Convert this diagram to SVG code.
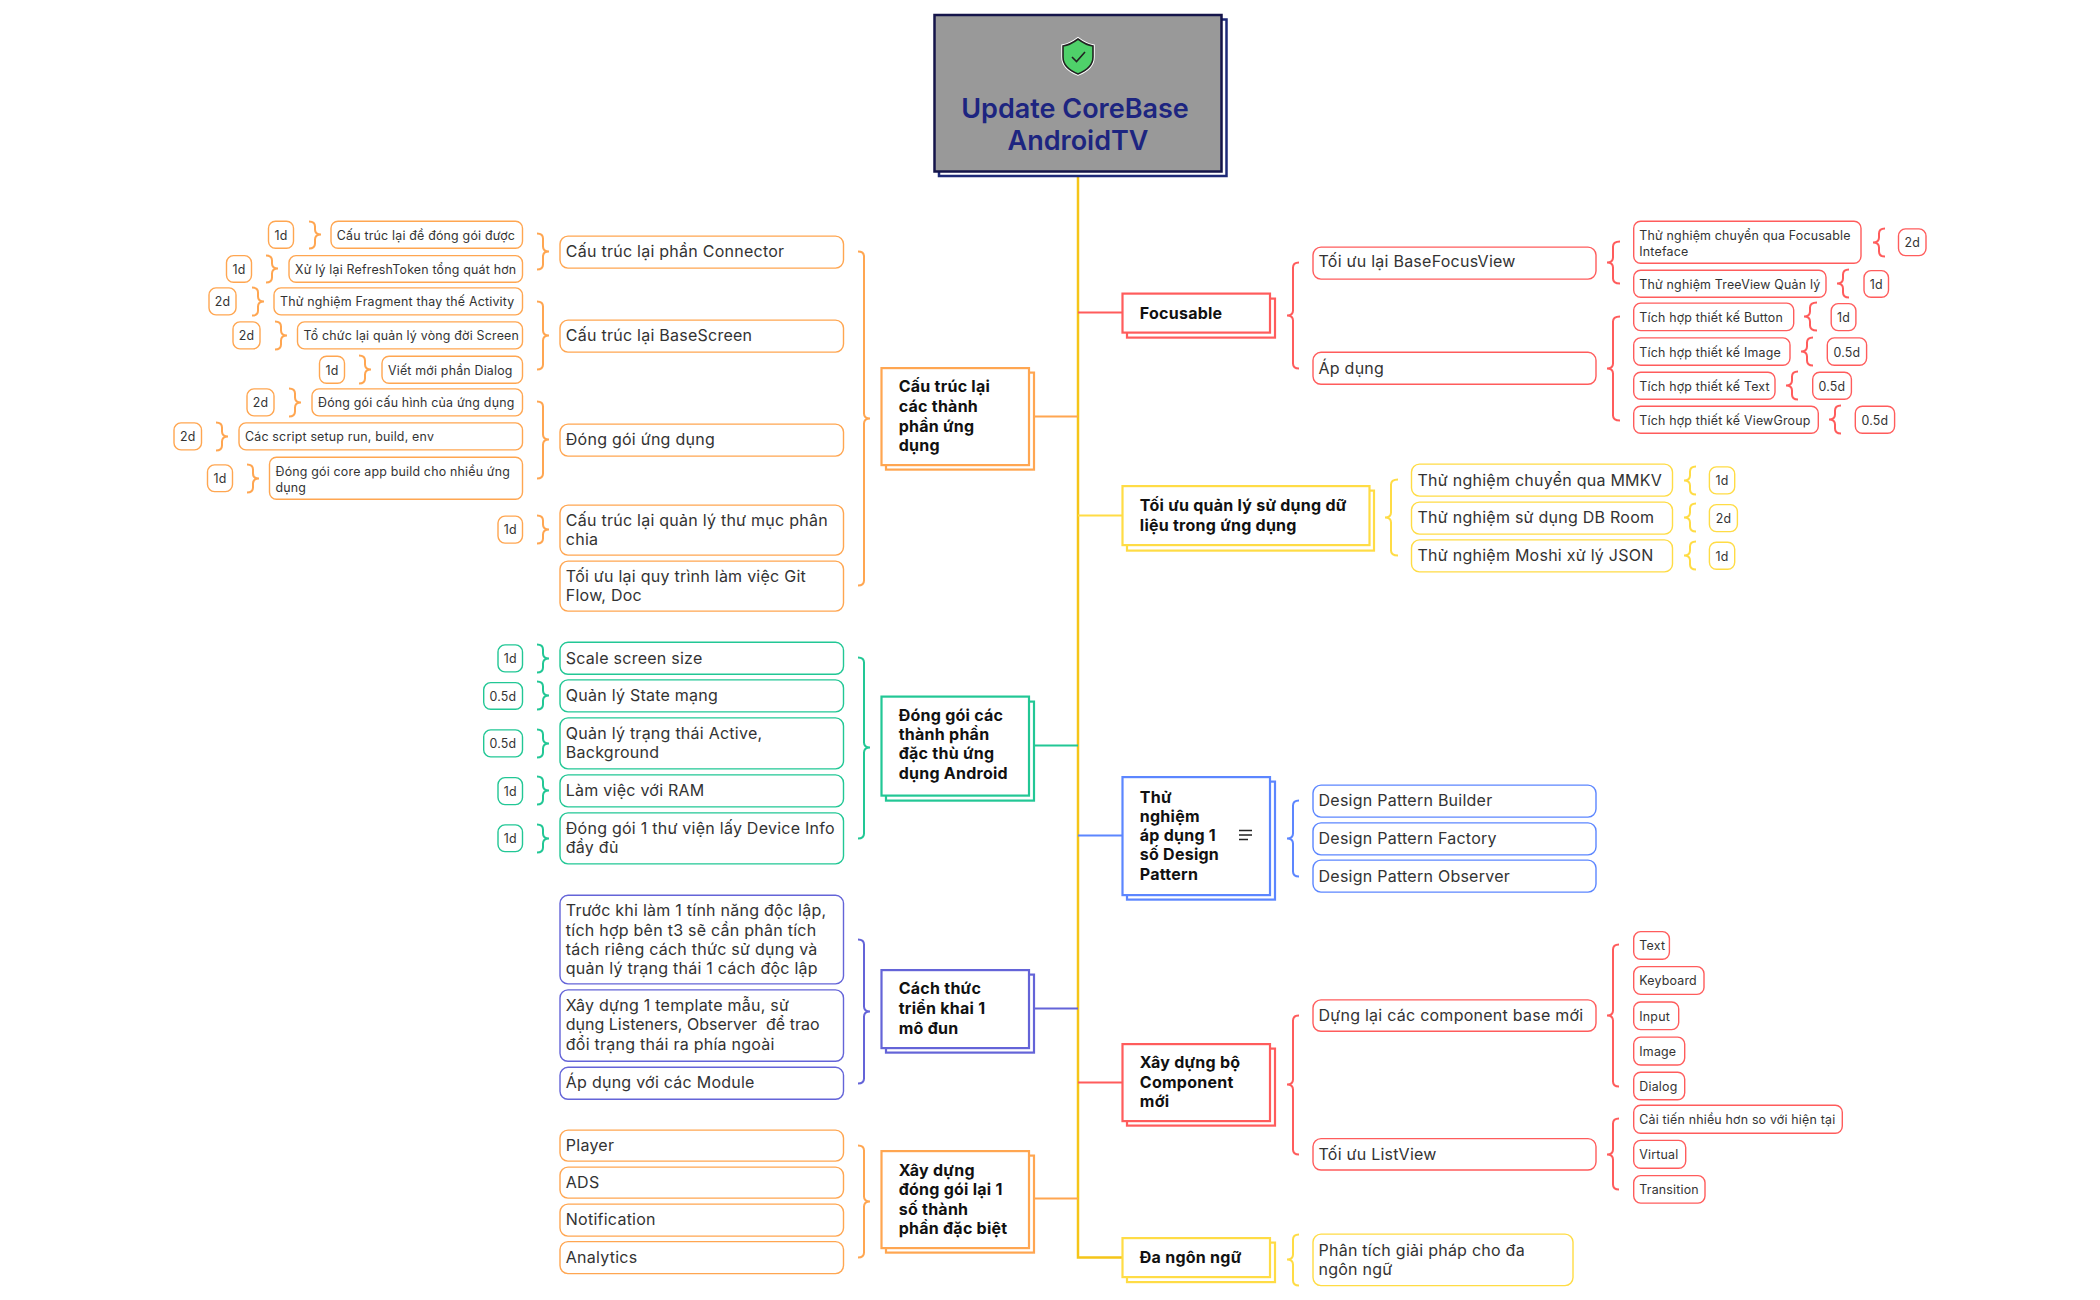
<svg xmlns="http://www.w3.org/2000/svg" width="2100" height="1300" viewBox="0 0 2100 1300">
<style>
text{font-family:"Inter","Noto Sans","Liberation Sans",sans-serif;fill:#333}
g[id]:not(#root){transform:translateY(.6px)}
g[id] g[id]{transform:none}
rect{fill:#fff;stroke-width:1.4}
.l1 rect{stroke-width:2.2}
.l1 text{font-size:16px;font-weight:700;fill:#111;letter-spacing:.25px}
.l2 rect{rx:8px}
.l2 text{font-size:16px;letter-spacing:.25px}
.l3 rect{rx:7px}
.l3 text{font-size:12.400px;letter-spacing:.2px}
.tag text{text-anchor:middle}
.o rect{stroke:#ffa651}.g rect{stroke:#22c795}.p rect{stroke:#6464d8}.b rect{stroke:#5c86ff}.r rect{stroke:#ff5c5c}.y rect{stroke:#ffdc45}
#connectors path{fill:none;stroke-width:2}
#connectors .o{stroke:#ffa651}#connectors .g{stroke:#22c795}#connectors .p{stroke:#6464d8}#connectors .b{stroke:#5c86ff}#connectors .r{stroke:#ff5c5c}#connectors .y{stroke:#ffdc45}
#connectors .trunk{stroke:#f5c518;stroke-width:2.500}
</style>
<g id="connectors">
<path class="trunk" d="M1078 176V1257H1122"/>
<path class="o" d="M1034 416H1078"/><path class="g" d="M1034 745H1078"/><path class="p" d="M1034 1008H1078"/><path class="o" d="M1034 1198H1078"/>
<path class="r" d="M1078 312H1122"/><path class="y" d="M1078 515H1122"/><path class="b" d="M1078 835H1122"/><path class="r" d="M1078 1082H1122"/>
<path class="o" d="M858 251Q864 251 864 256V413Q864 418 870 418Q864 418 864 423V580Q864 585 858 585"/>
<path class="g" d="M858 657Q864 657 864 662V742Q864 747 870 747Q864 747 864 752V833Q864 838 858 838"/>
<path class="p" d="M858 939Q864 939 864 944V1006Q864 1011 870 1011Q864 1011 864 1016V1078Q864 1083 858 1083"/>
<path class="o" d="M858 1145Q864 1145 864 1150V1196Q864 1201 870 1201Q864 1201 864 1206V1252Q864 1257 858 1257"/>
<path class="o" d="M537 233Q543 233 543 238V246Q543 251 549 251Q543 251 543 256V264Q543 269 537 269"/>
<path class="o" d="M537 301Q543 301 543 306V330Q543 335 549 335Q543 335 543 340V364Q543 369 537 369"/>
<path class="o" d="M537 401Q543 401 543 406V434Q543 439 549 439Q543 439 543 444V473Q543 478 537 478"/>
<path class="o" d="M537 515Q543 515 543 520V524Q543 529 549 529Q543 529 543 534V538Q543 543 537 543"/>
<path class="o" d="M309 221Q315 221 315 226V229Q315 234 321 234Q315 234 315 239V243Q315 248 309 248"/>
<path class="o" d="M266 255Q272 255 272 260V263Q272 268 278 268Q272 268 272 273V277Q272 282 266 282"/>
<path class="o" d="M252 287Q258 287 258 292V296Q258 301 264 301Q258 301 258 306V310Q258 315 252 315"/>
<path class="o" d="M275 321Q281 321 281 326V330Q281 335 287 335Q281 335 281 340V344Q281 349 275 349"/>
<path class="o" d="M359 355Q365 355 365 360V364Q365 369 371 369Q365 369 365 374V378Q365 383 359 383"/>
<path class="o" d="M289 388Q295 388 295 393V397Q295 402 301 402Q295 402 295 407V411Q295 416 289 416"/>
<path class="o" d="M216 422Q222 422 222 427V431Q222 436 228 436Q222 436 222 441V445Q222 450 216 450"/>
<path class="o" d="M247 464Q253 464 253 469V473Q253 478 259 478Q253 478 253 483V487Q253 492 247 492"/>
<path class="g" d="M537 644Q543 644 543 649V653Q543 658 549 658Q543 658 543 663V667Q543 672 537 672"/>
<path class="g" d="M537 681Q543 681 543 686V690Q543 695 549 695Q543 695 543 700V704Q543 709 537 709"/>
<path class="g" d="M537 729Q543 729 543 734V738Q543 743 549 743Q543 743 543 748V752Q543 757 537 757"/>
<path class="g" d="M537 776Q543 776 543 781V785Q543 790 549 790Q543 790 543 795V799Q543 804 537 804"/>
<path class="g" d="M537 824Q543 824 543 829V833Q543 838 549 838Q543 838 543 843V847Q543 852 537 852"/>
<path class="r" d="M1299 262Q1293 262 1293 267V310Q1293 315 1287 315Q1293 315 1293 320V363Q1293 368 1299 368"/>
<path class="r" d="M1620 241Q1613 241 1613 246V257Q1613 262 1607 262Q1613 262 1613 267V278Q1613 283 1620 283"/>
<path class="r" d="M1620 316Q1613 316 1613 321V363Q1613 368 1607 368Q1613 368 1613 373V415Q1613 420 1620 420"/>
<path class="r" d="M1885 228Q1879 228 1879 233V237Q1879 242 1873 242Q1879 242 1879 247V251Q1879 256 1885 256"/>
<path class="r" d="M1849 269Q1843 269 1843 274V278Q1843 283 1837 283Q1843 283 1843 288V292Q1843 297 1849 297"/>
<path class="r" d="M1817 302Q1810 302 1810 307V311Q1810 316 1804 316Q1810 316 1810 321V325Q1810 330 1817 330"/>
<path class="r" d="M1813 337Q1807 337 1807 342V346Q1807 351 1801 351Q1807 351 1807 356V360Q1807 365 1813 365"/>
<path class="r" d="M1798 371Q1792 371 1792 376V380Q1792 385 1786 385Q1792 385 1792 390V394Q1792 399 1798 399"/>
<path class="r" d="M1841 405Q1835 405 1835 410V414Q1835 419 1829 419Q1835 419 1835 424V428Q1835 433 1841 433"/>
<path class="y" d="M1398 479Q1391 479 1391 484V512Q1391 517 1385 517Q1391 517 1391 522V550Q1391 555 1398 555"/>
<path class="y" d="M1696 466Q1690 466 1690 471V475Q1690 480 1684 480Q1690 480 1690 485V489Q1690 494 1696 494"/>
<path class="y" d="M1696 503Q1690 503 1690 508V512Q1690 517 1684 517Q1690 517 1690 522V526Q1690 531 1696 531"/>
<path class="y" d="M1696 541Q1690 541 1690 546V550Q1690 555 1684 555Q1690 555 1690 560V564Q1690 569 1696 569"/>
<path class="b" d="M1299 800Q1293 800 1293 805V833Q1293 838 1287 838Q1293 838 1293 843V871Q1293 876 1299 876"/>
<path class="r" d="M1299 1015Q1293 1015 1293 1020V1079Q1293 1084 1287 1084Q1293 1084 1293 1089V1149Q1293 1154 1299 1154"/>
<path class="r" d="M1619 944Q1613 944 1613 949V1010Q1613 1015 1607 1015Q1613 1015 1613 1020V1081Q1613 1086 1619 1086"/>
<path class="r" d="M1619 1118Q1613 1118 1613 1123V1149Q1613 1154 1607 1154Q1613 1154 1613 1159V1184Q1613 1189 1619 1189"/>
<path class="y" d="M1299 1234Q1293 1234 1293 1239V1254Q1293 1259 1287 1259Q1293 1259 1293 1264V1280Q1293 1285 1299 1285"/>
</g>
<g id="root">
<rect x="939" y="19.500" width="287.500" height="156.500" style="stroke:#1e2a78;stroke-width:2.500"/>
<rect x="934.500" y="15" width="287" height="156.500" style="fill:#999;stroke:#14144a;stroke-width:2.500"/>
<path d="M1078 39Q1086 45 1093 46V57Q1093 68 1078 74Q1063 68 1063 57V46Q1070 45 1078 39Z" style="fill:none;stroke:#fff;stroke-width:3.500"/>
<path d="M1078 39Q1086 45 1093 46V57Q1093 68 1078 74Q1063 68 1063 57V46Q1070 45 1078 39Z" style="fill:#4fd16a;stroke:#222;stroke-width:1.600"/>
<path d="M1072 57L1076.500 61.500L1085 52" style="fill:none;stroke:#222;stroke-width:1.600"/>
<text x="1075" y="118" text-anchor="middle" style="font-size:27px;font-weight:600;fill:#1d2580;letter-spacing:0">Update CoreBase</text>
<text x="1078" y="150" text-anchor="middle" style="font-size:27px;font-weight:600;fill:#1d2580;letter-spacing:0">AndroidTV</text>
</g>
<g id="l1-cau-truc" class="l1 o"><rect x="886" y="372" width="148" height="97"/><rect x="881.500" y="367.500" width="147.500" height="97"/><text x="898.700" y="391.700">Cấu trúc lại</text><text x="898.700" y="411.500">các thành</text><text x="898.700" y="431">phần ứng</text><text x="898.700" y="450">dụng</text></g>
<g id="l1-dong-goi" class="l1 g"><rect x="886" y="701" width="148" height="99"/><rect x="881.500" y="696" width="147.500" height="99"/><text x="898.700" y="720.700">Đóng gói các</text><text x="898.700" y="739.700">thành phần</text><text x="898.700" y="758.700">đặc thù ứng</text><text x="898.700" y="778.500">dụng Android</text></g>
<g id="l1-cach-thuc" class="l1 p"><rect x="886" y="974" width="148" height="78"/><rect x="881.500" y="969.500" width="147.500" height="78"/><text x="898.700" y="993.700">Cách thức</text><text x="898.700" y="1013.700">triển khai 1</text><text x="898.700" y="1033">mô đun</text></g>
<g id="l1-xay-dung" class="l1 o"><rect x="886" y="1155" width="148" height="97"/><rect x="881.500" y="1150.500" width="147.500" height="97"/><text x="898.700" y="1175">Xây dựng</text><text x="898.700" y="1194.300">đóng gói lại 1</text><text x="898.700" y="1214">số thành</text><text x="898.700" y="1233">phần đặc biệt</text></g>
<g id="l1-focusable" class="l1 r"><rect x="1127" y="298" width="148" height="39"/><rect x="1122.500" y="293" width="147.500" height="39"/><text x="1139.800" y="318">Focusable</text></g>
<g id="l1-toi-uu" class="l1 y"><rect x="1127" y="490" width="247" height="60"/><rect x="1122.500" y="485.500" width="247" height="59"/><text x="1139.800" y="510">Tối ưu quản lý sử dụng dữ</text><text x="1139.800" y="530">liệu trong ứng dụng</text></g>
<g id="l1-design" class="l1 b"><rect x="1127" y="781" width="148" height="118"/><rect x="1122.500" y="776.500" width="147.500" height="118"/><text x="1139.800" y="802">Thử</text><text x="1139.800" y="821.300">nghiệm</text><text x="1139.800" y="840.200">áp dụng 1</text><text x="1139.800" y="859.500">số Design</text><text x="1139.800" y="879">Pattern</text><path d="M1239 830H1252M1239 834.500H1252M1239 839H1248" style="stroke:#222;stroke-width:1.500;fill:none"/></g>
<g id="l1-component" class="l1 r"><rect x="1127" y="1048" width="148" height="77"/><rect x="1122.500" y="1043.500" width="147.500" height="77"/><text x="1139.800" y="1067.500">Xây dựng bộ</text><text x="1139.800" y="1087">Component</text><text x="1139.800" y="1106.800">mới</text></g>
<g id="l1-da-ngon-ngu" class="l1 y"><rect x="1127" y="1242" width="148" height="39.500"/><rect x="1122.500" y="1237.500" width="147.500" height="39"/><text x="1139.800" y="1262">Đa ngôn ngữ</text></g>
<g id="n-connector" class="l2 o"><rect x="560" y="235.500" width="283.500" height="32"/><text x="565.800" y="256">Cấu trúc lại phần Connector</text></g>
<g id="n-basescreen" class="l2 o"><rect x="560" y="319.500" width="283.500" height="32"/><text x="565.800" y="340">Cấu trúc lại BaseScreen</text></g>
<g id="n-dong-goi-ud" class="l2 o"><rect x="560" y="423.500" width="283.500" height="32"/><text x="565.800" y="444.500">Đóng gói ứng dụng</text></g>
<g id="n-thu-muc" class="l2 o"><rect x="560" y="504.500" width="283.500" height="50"/><text x="565.800" y="525">Cấu trúc lại quản lý thư mục phân</text><text x="565.800" y="544">chia</text></g>
<g id="n-git" class="l2 o"><rect x="560" y="560.500" width="283.500" height="50"/><text x="565.800" y="581">Tối ưu lại quy trình làm việc Git</text><text x="565.800" y="600">Flow, Doc</text></g>
<g id="n-a1" class="l3 o"><rect x="331" y="220.700" width="191.500" height="27"/><text x="336.800" y="239">Cấu trúc lại đề đóng gói được</text></g>
<g id="n-a2" class="l3 o"><rect x="289" y="255" width="233.500" height="26.700"/><text x="295" y="273">Xử lý lại RefreshToken tổng quát hơn</text></g>
<g id="n-a3" class="l3 o"><rect x="274" y="287.300" width="248.500" height="27"/><text x="280" y="305.500">Thử nghiệm Fragment thay thế Activity</text></g>
<g id="n-a4" class="l3 o"><rect x="297.500" y="321.300" width="225" height="27"/><text x="303.500" y="339.500">Tổ chức lại quản lý vòng đời Screen</text></g>
<g id="n-a5" class="l3 o"><rect x="382" y="355.700" width="140.500" height="27"/><text x="388" y="374">Viết mới phần Dialog</text></g>
<g id="n-a6" class="l3 o"><rect x="312" y="388.300" width="210.500" height="27"/><text x="318" y="406.500">Đóng gói cấu hình của ứng dụng</text></g>
<g id="n-a7" class="l3 o"><rect x="239" y="422.300" width="283.500" height="27"/><text x="245" y="440.500">Các script setup run, build, env</text></g>
<g id="n-a8" class="l3 o"><rect x="269.500" y="456.700" width="253" height="42"/><text x="275.500" y="475">Đóng gói core app build cho nhiều ứng</text><text x="275.500" y="491">dụng</text></g>
<g id="t-a1" class="l3 tag o"><rect x="268.500" y="220.700" width="25" height="27"/><text x="281" y="239">1d</text></g>
<g id="t-a2" class="l3 tag o"><rect x="226.500" y="255" width="25" height="26.700"/><text x="239" y="273">1d</text></g>
<g id="t-a3" class="l3 tag o"><rect x="209" y="287.300" width="27" height="27"/><text x="222.500" y="305.500">2d</text></g>
<g id="t-a4" class="l3 tag o"><rect x="233" y="321.300" width="27" height="27"/><text x="246.500" y="339.500">2d</text></g>
<g id="t-a5" class="l3 tag o"><rect x="319.500" y="355.700" width="25" height="27"/><text x="332" y="374">1d</text></g>
<g id="t-a6" class="l3 tag o"><rect x="247" y="388.300" width="27" height="27"/><text x="260.500" y="406.500">2d</text></g>
<g id="t-a7" class="l3 tag o"><rect x="174" y="422.300" width="27.500" height="27"/><text x="187.700" y="440.500">2d</text></g>
<g id="t-a8" class="l3 tag o"><rect x="207.500" y="464.300" width="25" height="26.700"/><text x="220" y="482">1d</text></g>
<g id="t-a9" class="l3 tag o"><rect x="498" y="515.500" width="24.500" height="27"/><text x="510.200" y="533.500">1d</text></g>
<g id="n-g1" class="l2 g"><rect x="560" y="641.700" width="283.500" height="32"/><text x="565.800" y="663">Scale screen size</text></g>
<g id="n-g2" class="l2 g"><rect x="560" y="679.300" width="283.500" height="32"/><text x="565.800" y="700.300">Quản lý State mạng</text></g>
<g id="n-g3" class="l2 g"><rect x="560" y="717.300" width="283.500" height="51"/><text x="565.800" y="738">Quản lý trạng thái Active,</text><text x="565.800" y="757">Background</text></g>
<g id="n-g4" class="l2 g"><rect x="560" y="774.300" width="283.500" height="32"/><text x="565.800" y="795">Làm việc với RAM</text></g>
<g id="n-g5" class="l2 g"><rect x="560" y="812.300" width="283.500" height="51"/><text x="565.800" y="833.300">Đóng gói 1 thư viện lấy Device Info</text><text x="565.800" y="852">đầy đủ</text></g>
<g id="t-g1" class="l3 tag g"><rect x="498" y="644.300" width="24.500" height="27"/><text x="510.200" y="662.500">1d</text></g>
<g id="t-g2" class="l3 tag g"><rect x="483.700" y="682" width="38.800" height="26.700"/><text x="503" y="700">0.5d</text></g>
<g id="t-g3" class="l3 tag g"><rect x="483.700" y="729.300" width="38.800" height="27"/><text x="503" y="747.500">0.5d</text></g>
<g id="t-g4" class="l3 tag g"><rect x="498" y="777" width="24.500" height="27"/><text x="510.200" y="795">1d</text></g>
<g id="t-g5" class="l3 tag g"><rect x="498" y="824.300" width="24.500" height="26.700"/><text x="510.200" y="842.500">1d</text></g>
<g id="n-p1" class="l2 p"><rect x="560" y="894.700" width="283.500" height="88.600"/><text x="565.800" y="915">Trước khi làm 1 tính năng độc lập,</text><text x="565.800" y="935">tích hợp bên t3 sẽ cần phân tích</text><text x="565.800" y="954">tách riêng cách thức sử dụng và</text><text x="565.800" y="973">quản lý trạng thái 1 cách độc lập</text></g>
<g id="n-p2" class="l2 p"><rect x="560" y="989.300" width="283.500" height="71.400"/><text x="565.800" y="1010">Xây dựng 1 template mẫu, sử</text><text x="565.800" y="1029" style="white-space:pre;letter-spacing:0">dụng Listeners, Observer  để trao</text><text x="565.800" y="1049">đổi trạng thái ra phía ngoài</text></g>
<g id="n-p3" class="l2 p"><rect x="560" y="1066.700" width="283.500" height="32"/><text x="565.800" y="1087">Áp dụng với các Module</text></g>
<g id="n-q1" class="l2 o"><rect x="560" y="1129.500" width="283.500" height="31"/><text x="565.800" y="1150">Player</text></g>
<g id="n-q2" class="l2 o"><rect x="560" y="1166.500" width="283.500" height="31"/><text x="565.800" y="1187">ADS</text></g>
<g id="n-q3" class="l2 o"><rect x="560" y="1203.500" width="283.500" height="32"/><text x="565.800" y="1224">Notification</text></g>
<g id="n-q4" class="l2 o"><rect x="560" y="1241" width="283.500" height="32"/><text x="565.800" y="1262">Analytics</text></g>
<g id="n-r1" class="l2 r"><rect x="1313" y="246.500" width="283" height="32"/><text x="1318.500" y="266.700">Tối ưu lại BaseFocusView</text></g>
<g id="n-r2" class="l2 r"><rect x="1313" y="351.700" width="283" height="32"/><text x="1318.500" y="373">Áp dụng</text></g>
<g id="n-r3" class="l3 r"><rect x="1633.700" y="220.700" width="227.300" height="42"/><text x="1639.300" y="239">Thử nghiệm chuyển qua Focusable</text><text x="1639.300" y="255">Inteface</text></g>
<g id="n-r4" class="l3 r"><rect x="1633.700" y="269.700" width="192.300" height="27"/><text x="1639.300" y="288">Thử nghiệm TreeView Quản lý</text></g>
<g id="n-r5" class="l3 r"><rect x="1633.700" y="302.500" width="160" height="27.500"/><text x="1639.300" y="321">Tích hợp thiết kế Button</text></g>
<g id="n-r6" class="l3 r"><rect x="1633.700" y="337.300" width="156.300" height="27.400"/><text x="1639.300" y="356">Tích hợp thiết kế Image</text></g>
<g id="n-r7" class="l3 r"><rect x="1633.700" y="371.700" width="141.300" height="27"/><text x="1639.300" y="390">Tích hợp thiết kế Text</text></g>
<g id="n-r8" class="l3 r"><rect x="1633.700" y="405.700" width="184.600" height="27"/><text x="1639.300" y="424">Tích hợp thiết kế ViewGroup</text></g>
<g id="t-r3" class="l3 tag r"><rect x="1898.500" y="228.300" width="27.500" height="26.700"/><text x="1912.200" y="246.500">2d</text></g>
<g id="t-r4" class="l3 tag r"><rect x="1864" y="270" width="24.500" height="26.700"/><text x="1876.200" y="288">1d</text></g>
<g id="t-r5" class="l3 tag r"><rect x="1831.200" y="303" width="24.700" height="27"/><text x="1843.500" y="321">1d</text></g>
<g id="t-r6" class="l3 tag r"><rect x="1827.300" y="337.300" width="39.300" height="27.400"/><text x="1847" y="356">0.5d</text></g>
<g id="t-r7" class="l3 tag r"><rect x="1812.700" y="371.700" width="38.700" height="27"/><text x="1832" y="390">0.5d</text></g>
<g id="t-r8" class="l3 tag r"><rect x="1855.300" y="405.700" width="39.300" height="27"/><text x="1875" y="424">0.5d</text></g>
<g id="n-y1" class="l2 y"><rect x="1411.500" y="463.500" width="261" height="32"/><text x="1417.500" y="485">Thử nghiệm chuyển qua MMKV</text></g>
<g id="n-y2" class="l2 y"><rect x="1411.500" y="501.500" width="261" height="32"/><text x="1417.500" y="522.300">Thử nghiệm sử dụng DB Room</text></g>
<g id="n-y3" class="l2 y"><rect x="1411.500" y="539.300" width="261" height="32"/><text x="1417.500" y="560">Thử nghiệm Moshi xử lý JSON</text></g>
<g id="t-y1" class="l3 tag y"><rect x="1709.400" y="466.300" width="25.300" height="27"/><text x="1722" y="484.500">1d</text></g>
<g id="t-y2" class="l3 tag y"><rect x="1709.400" y="504" width="28" height="27"/><text x="1723.400" y="522">2d</text></g>
<g id="t-y3" class="l3 tag y"><rect x="1709.400" y="541.700" width="25.300" height="27"/><text x="1722" y="560">1d</text></g>
<g id="n-b1" class="l2 b"><rect x="1313" y="784.500" width="283" height="32"/><text x="1318.500" y="805.500">Design Pattern Builder</text></g>
<g id="n-b2" class="l2 b"><rect x="1313" y="822.300" width="283" height="32"/><text x="1318.500" y="843.300">Design Pattern Factory</text></g>
<g id="n-b3" class="l2 b"><rect x="1313" y="859.500" width="283" height="32"/><text x="1318.500" y="881.200">Design Pattern Observer</text></g>
<g id="n-c1" class="l2 r"><rect x="1313" y="999.300" width="283" height="31.400"/><text x="1318.500" y="1020.300">Dựng lại các component base mới</text></g>
<g id="n-c2" class="l2 r"><rect x="1313" y="1138" width="283" height="31.400"/><text x="1318.500" y="1159.400">Tối ưu ListView</text></g>
<g id="n-c3" class="l3 r"><rect x="1633.700" y="931" width="35.700" height="27.700"/><text x="1639.300" y="949.500">Text</text></g>
<g id="n-c4" class="l3 r"><rect x="1633.700" y="966" width="70.300" height="27.800"/><text x="1639.300" y="984.500">Keyboard</text></g>
<g id="n-c5" class="l3 r"><rect x="1633.700" y="1001.400" width="45" height="27.600"/><text x="1639.300" y="1020">Input</text></g>
<g id="n-c6" class="l3 r"><rect x="1633.700" y="1036.500" width="51" height="27.900"/><text x="1639.300" y="1055">Image</text></g>
<g id="n-c7" class="l3 r"><rect x="1633.700" y="1071.600" width="51" height="27.600"/><text x="1639.300" y="1090">Dialog</text></g>
<g id="n-c8" class="l3 r"><rect x="1633.700" y="1104.700" width="208.600" height="27.900"/><text x="1639.300" y="1123">Cải tiến nhiều hơn so với hiện tại</text></g>
<g id="n-c9" class="l3 r"><rect x="1633.700" y="1139.800" width="52" height="27.900"/><text x="1639.300" y="1158">Virtual</text></g>
<g id="n-c10" class="l3 r"><rect x="1633.700" y="1175" width="71.300" height="27.500"/><text x="1639.300" y="1193.500">Transition</text></g>
<g id="n-d1" class="l2 y"><rect x="1313" y="1233.500" width="260" height="51.500"/><text x="1318.500" y="1255">Phân tích giải pháp cho đa</text><text x="1318.500" y="1274.500">ngôn ngữ</text></g>
</svg>
